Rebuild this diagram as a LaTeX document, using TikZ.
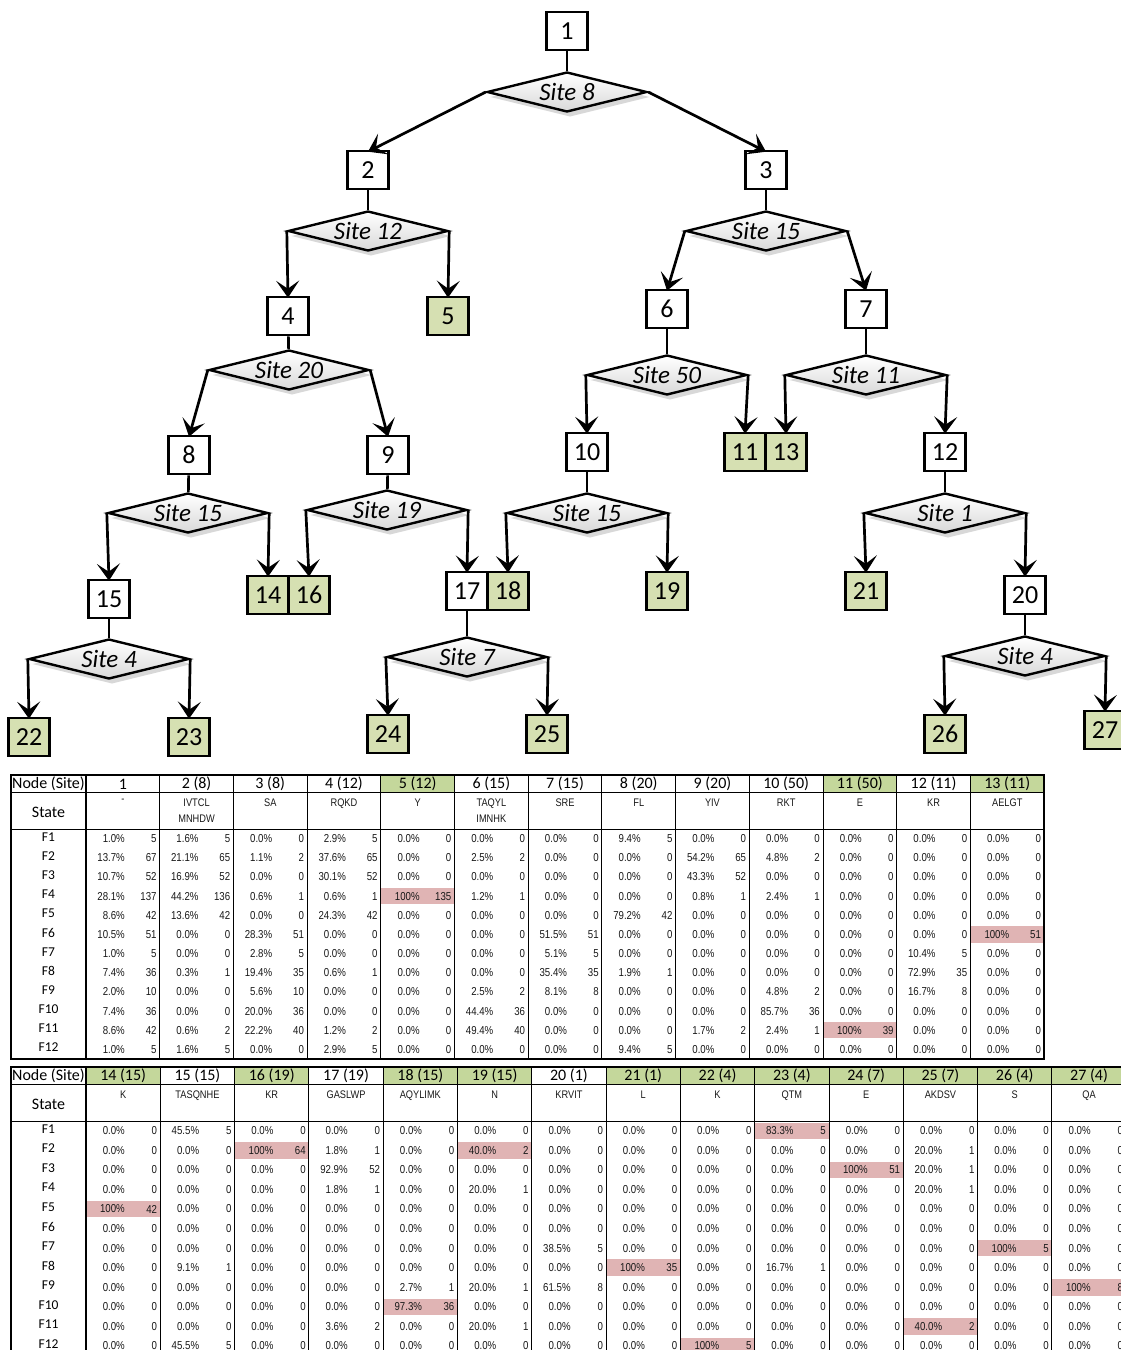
\documentclass[tikz,border=0pt]{standalone}
\usepackage{fontspec}
\setmainfont{Carlito}
\newfontfamily\cellfont[FakeStretch=0.84]{Liberation Sans}
\usepackage{tikz}
\usetikzlibrary{arrows.meta,shapes.geometric,shadows}
\definecolor{leafgreen}{RGB}{214,224,178}
\definecolor{headgreen}{RGB}{196,215,155}
\definecolor{hitred}{RGB}{224,180,180}

\begin{document}
\begin{tikzpicture}[x=1pt,y=-1pt,>={Stealth[length=17pt,width=23pt,inset=8pt]}]
 \tikzset{box/.style={draw,line width=2.6pt,minimum width=41pt,minimum height=38pt,inner sep=0pt,fill=white,font=\fontsize{26}{26}\selectfont},
          leaf/.style={box,fill=leafgreen},
          site/.style={diamond,aspect=4,draw,line width=2.4pt,minimum width=160pt,minimum height=40pt,inner sep=0pt,
                       top color=white,bottom color=gray!30,drop shadow={opacity=0.3,shadow xshift=3pt,shadow yshift=-5pt},
                       font=\fontsize{25}{25}\selectfont\itshape},
          arr/.style={->,line width=2.7pt},
          lnk/.style={line width=2.7pt},
          hd/.style={inner sep=0pt,font=\fontsize{16}{16}\selectfont},
          lab/.style={inner sep=0pt,font=\fontsize{13.5}{14}\selectfont},
          st/.style={inner sep=0pt,anchor=north,align=center,text=black!90,font=\cellfont\fontsize{11}{16}\selectfont},
          val/.style={inner sep=0pt,anchor=east,text=black!90,font=\cellfont\fontsize{11.5}{12}\selectfont}}
 \useasboundingbox[fill=white] (0,0) rectangle (1120,1350);
 \node[box] (n1) at (567,31) {1};
 \node[site] (d1) at (567,92) {Site 8};
 \node[box] (n2) at (368,170) {2};
 \node[box] (n3) at (766,170) {3};
 \node[site] (d2) at (368,231) {Site 12};
 \node[site] (d3) at (766,231) {Site 15};
 \node[box] (n4) at (288,316) {4};
 \node[leaf] (n5) at (448,316) {5};
 \node[box] (n6) at (667,309) {6};
 \node[box] (n7) at (866,309) {7};
 \node[site] (d4) at (289,370) {Site 20};
 \node[site] (d6) at (667,375) {Site 50};
 \node[site] (d7) at (866,375) {Site 11};
 \node[box] (n8) at (189,455) {8};
 \node[box] (n9) at (388,455) {9};
 \node[box] (n10) at (587,452) {10};
 \node[leaf] (n11) at (745,452) {11};
 \node[leaf] (n13) at (786,452) {13};
 \node[box] (n12) at (945,452) {12};
 \node[site] (d8) at (188,513) {Site 15};
 \node[site] (d9) at (387,510) {Site 19};
 \node[site] (d10) at (587,513) {Site 15};
 \node[site] (d12) at (945,513) {Site 1};
 \node[box] (n15) at (109,599) {15};
 \node[leaf] (n14) at (268,595) {14};
 \node[leaf] (n16) at (309,595) {16};
 \node[box] (n17) at (467,591) {17};
 \node[leaf] (n18) at (508,591) {18};
 \node[leaf] (n19) at (667,591) {19};
 \node[leaf] (n21) at (866,591) {21};
 \node[box] (n20) at (1025,595) {20};
 \node[site] (d15) at (109,659) {Site 4};
 \node[site] (d17) at (467,657) {Site 7};
 \node[site] (d20) at (1025,656) {Site 4};
 \node[leaf] (n22) at (29,737) {22};
 \node[leaf] (n23) at (189,737) {23};
 \node[leaf] (n24) at (388,734) {24};
 \node[leaf] (n25) at (547,734) {25};
 \node[leaf] (n26) at (945,734) {26};
 \node[leaf] (n27) at (1105,730) {27};
 \foreach \a in {1,2,3,4,6,7,8,9,10,12,15,17,20} \draw[lnk] (n\a) -- (d\a);
 \foreach \a/\b in {d1.west/n2,d1.east/n3,d2.west/n4,d2.east/n5,d3.west/n6,d3.east/n7,d4.west/n8,d4.east/n9,
                    d6.west/n10,d6.east/n11,d7.west/n13,d7.east/n12,d8.west/n15,d8.east/n14,d9.west/n16,d9.east/n17,
                    d10.west/n18,d10.east/n19,d12.west/n21,d12.east/n20,d15.west/n22,d15.east/n23,d17.west/n24,
                    d17.east/n25,d20.west/n26,d20.east/n27}
   \draw[arr] (\a) -- ([yshift=-2pt]\b.north);
 \foreach \tb/\kk/\nd/\si/\st/\lf/\hit/\vals in {
   1/0/1/{}/{-}/0/0/{1.0/5,13.7/67,10.7/52,28.1/137,8.6/42,10.5/51,1.0/5,7.4/36,2.0/10,7.4/36,8.6/42,1.0/5},
   1/1/2/8/{IVTCL\\MNHDW}/0/0/{1.6/5,21.1/65,16.9/52,44.2/136,13.6/42,0.0/0,0.0/0,0.3/1,0.0/0,0.0/0,0.6/2,1.6/5},
   1/2/3/8/SA/0/0/{0.0/0,1.1/2,0.0/0,0.6/1,0.0/0,28.3/51,2.8/5,19.4/35,5.6/10,20.0/36,22.2/40,0.0/0},
   1/3/4/12/RQKD/0/0/{2.9/5,37.6/65,30.1/52,0.6/1,24.3/42,0.0/0,0.0/0,0.6/1,0.0/0,0.0/0,1.2/2,2.9/5},
   1/4/5/12/Y/1/4/{0.0/0,0.0/0,0.0/0,100/135,0.0/0,0.0/0,0.0/0,0.0/0,0.0/0,0.0/0,0.0/0,0.0/0},
   1/5/6/15/{TAQYL\\IMNHK}/0/0/{0.0/0,2.5/2,0.0/0,1.2/1,0.0/0,0.0/0,0.0/0,0.0/0,2.5/2,44.4/36,49.4/40,0.0/0},
   1/6/7/15/SRE/0/0/{0.0/0,0.0/0,0.0/0,0.0/0,0.0/0,51.5/51,5.1/5,35.4/35,8.1/8,0.0/0,0.0/0,0.0/0},
   1/7/8/20/FL/0/0/{9.4/5,0.0/0,0.0/0,0.0/0,79.2/42,0.0/0,0.0/0,1.9/1,0.0/0,0.0/0,0.0/0,9.4/5},
   1/8/9/20/YIV/0/0/{0.0/0,54.2/65,43.3/52,0.8/1,0.0/0,0.0/0,0.0/0,0.0/0,0.0/0,0.0/0,1.7/2,0.0/0},
   1/9/10/50/RKT/0/0/{0.0/0,4.8/2,0.0/0,2.4/1,0.0/0,0.0/0,0.0/0,0.0/0,4.8/2,85.7/36,2.4/1,0.0/0},
   1/10/11/50/E/1/11/{0.0/0,0.0/0,0.0/0,0.0/0,0.0/0,0.0/0,0.0/0,0.0/0,0.0/0,0.0/0,100/39,0.0/0},
   1/11/12/11/KR/0/0/{0.0/0,0.0/0,0.0/0,0.0/0,0.0/0,0.0/0,10.4/5,72.9/35,16.7/8,0.0/0,0.0/0,0.0/0},
   1/12/13/11/AELGT/1/6/{0.0/0,0.0/0,0.0/0,0.0/0,0.0/0,100/51,0.0/0,0.0/0,0.0/0,0.0/0,0.0/0,0.0/0},
   2/0/14/15/K/1/5/{0.0/0,0.0/0,0.0/0,0.0/0,100/42,0.0/0,0.0/0,0.0/0,0.0/0,0.0/0,0.0/0,0.0/0},
   2/1/15/15/TASQNHE/0/0/{45.5/5,0.0/0,0.0/0,0.0/0,0.0/0,0.0/0,0.0/0,9.1/1,0.0/0,0.0/0,0.0/0,45.5/5},
   2/2/16/19/KR/1/2/{0.0/0,100/64,0.0/0,0.0/0,0.0/0,0.0/0,0.0/0,0.0/0,0.0/0,0.0/0,0.0/0,0.0/0},
   2/3/17/19/GASLWP/0/0/{0.0/0,1.8/1,92.9/52,1.8/1,0.0/0,0.0/0,0.0/0,0.0/0,0.0/0,0.0/0,3.6/2,0.0/0},
   2/4/18/15/AQYLIMK/1/10/{0.0/0,0.0/0,0.0/0,0.0/0,0.0/0,0.0/0,0.0/0,0.0/0,2.7/1,97.3/36,0.0/0,0.0/0},
   2/5/19/15/N/1/2/{0.0/0,40.0/2,0.0/0,20.0/1,0.0/0,0.0/0,0.0/0,0.0/0,20.0/1,0.0/0,20.0/1,0.0/0},
   2/6/20/1/KRVIT/0/0/{0.0/0,0.0/0,0.0/0,0.0/0,0.0/0,0.0/0,38.5/5,0.0/0,61.5/8,0.0/0,0.0/0,0.0/0},
   2/7/21/1/L/1/8/{0.0/0,0.0/0,0.0/0,0.0/0,0.0/0,0.0/0,0.0/0,100/35,0.0/0,0.0/0,0.0/0,0.0/0},
   2/8/22/4/K/1/12/{0.0/0,0.0/0,0.0/0,0.0/0,0.0/0,0.0/0,0.0/0,0.0/0,0.0/0,0.0/0,0.0/0,100/5},
   2/9/23/4/QTM/1/1/{83.3/5,0.0/0,0.0/0,0.0/0,0.0/0,0.0/0,0.0/0,16.7/1,0.0/0,0.0/0,0.0/0,0.0/0},
   2/10/24/7/E/1/3/{0.0/0,0.0/0,100/51,0.0/0,0.0/0,0.0/0,0.0/0,0.0/0,0.0/0,0.0/0,0.0/0,0.0/0},
   2/11/25/7/AKDSV/1/11/{0.0/0,20.0/1,20.0/1,20.0/1,0.0/0,0.0/0,0.0/0,0.0/0,0.0/0,0.0/0,40.0/2,0.0/0},
   2/12/26/4/S/1/7/{0.0/0,0.0/0,0.0/0,0.0/0,0.0/0,0.0/0,100/5,0.0/0,0.0/0,0.0/0,0.0/0,0.0/0},
   2/13/27/4/QA/1/9/{0.0/0,0.0/0,0.0/0,0.0/0,0.0/0,0.0/0,0.0/0,0.0/0,100/8,0.0/0,0.0/0,0.0/0}} {
   \ifnum\tb=1 \def\ty{775}\def\cw{73.7}\def\rh{19.17}\else \def\ty{1067}\def\cw{74.3}\def\rh{19.56}\fi
   \pgfmathsetmacro\xl{86+\kk*\cw}
   \pgfmathsetmacro\xr{\xl+\cw}
   \ifnum\lf=1 \fill[headgreen] (\xl+0.5,\ty) rectangle (\xr-0.5,\ty+17);\fi
   \node[hd] (h\nd) at (\xl+\cw/2,\ty+9) {\ifnum\nd=1 1\else\nd\ (\si)\fi};
   \node[st] (s\nd) at (\xl+\cw/2,\ty+24) {\st};
   \foreach \pc/\nn [count=\rr] in \vals {
     \pgfmathsetmacro\yc{\ty+54+(\rr-0.5)*\rh}
     \ifnum\rr=\hit \fill[hitred] (\xl+0.5,\yc-\rh/2+1.5) rectangle (\xr-0.5,\yc+\rh/2-1.5);\fi
     \node[val] (p\nd-\rr) at (\xl+39,\yc) {\pc\%};
     \node[val] (q\nd-\rr) at (\xr-3,\yc) {\nn};
   }
   \draw[line width=0.9pt] (\xr,\ty) -- (\xr,\ty+54+12*\rh);
 }
 \foreach \tb/\ty/\cw/\rh/\nc in {1/775/73.7/19.17/13,2/1067/74.3/19.56/14} {
   \pgfmathsetmacro\yb{\ty+54+12*\rh}
   \pgfmathsetmacro\xe{86+\nc*\cw}
   \node[hd] (ns\tb) at (48.5,\ty+9) {Node (Site)};
   \node[hd] (sl\tb) at (48.5,\ty+37) {State};
   \foreach \rr in {1,...,12} {
     \pgfmathsetmacro\yf{\ty+54+(\rr-0.6)*\rh}
     \node[lab] (f\tb-\rr) at (48.5,\yf) {F\rr};
   }
   \draw[line width=0.9pt] (11,\ty+17) -- (\xe,\ty+17) (11,\ty+54) -- (\xe,\ty+54);
   \draw[line width=1.6pt] (11,\ty) rectangle (\xe,\yb) (86,\ty) -- (86,\yb);
 }
\end{tikzpicture}
\end{document}
